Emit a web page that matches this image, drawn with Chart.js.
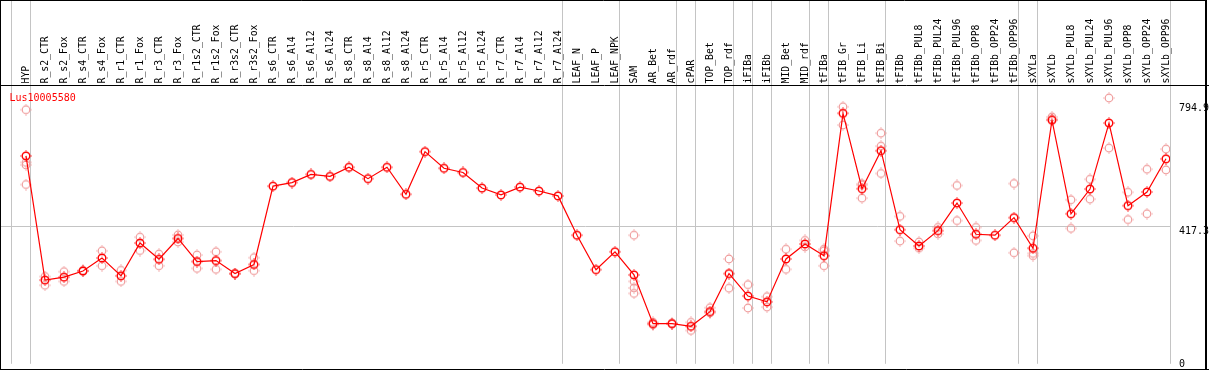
<!DOCTYPE html>
<html>
<head>
<meta charset="utf-8">
<script src="https://cdn.jsdelivr.net/npm/chart.js@4"></script>
<style>
  body { margin: 0; background: #fff; }
  canvas { display: block; }
</style>
</head>
<body>
<canvas id="geneChart" width="1209" height="370"></canvas>
<script>
// Datos del gráfico
const geneName = 'Lus10005580';

const categories = [
    'HYP', 'R_s2_CTR', 'R_s2_Fox', 'R_s4_CTR', 'R_s4_Fox', 'R_r1_CTR', 'R_r1_Fox', 'R_r3_CTR', 'R_r3_Fox',
    'R_r1s2_CTR', 'R_r1s2_Fox', 'R_r3s2_CTR', 'R_r3s2_Fox', 'R_s6_CTR', 'R_s6_Al4', 'R_s6_Al12', 'R_s6_Al24',
    'R_s8_CTR', 'R_s8_Al4', 'R_s8_Al12', 'R_s8_Al24', 'R_r5_CTR', 'R_r5_Al4', 'R_r5_Al12', 'R_r5_Al24',
    'R_r7_CTR', 'R_r7_Al4', 'R_r7_Al12', 'R_r7_Al24', 'LEAF_N', 'LEAF_P', 'LEAF_NPK', 'SAM', 'AR_Bet', 'AR_rdf',
    'cPAR', 'TOP_Bet', 'TOP_rdf', 'iFIBa', 'iFIBb', 'MID_Bet', 'MID_rdf', 'tFIBa', 'tFIB_Gr', 'tFIB_Li', 'tFIB_Bi',
    'tFIBb', 'tFIBb_PUL8', 'tFIBb_PUL24', 'tFIBb_PUL96', 'tFIBb_OPP8', 'tFIBb_OPP24', 'tFIBb_OPP96',
    'sXYLa', 'sXYLb', 'sXYLb_PUL8', 'sXYLb_PUL24', 'sXYLb_PUL96', 'sXYLb_OPP8', 'sXYLb_OPP24', 'sXYLb_OPP96'
];

// Media por muestra
const meanValues = [
    632, 250, 259, 278, 318, 263, 364, 314, 378,
    307, 310, 270, 298, 539, 550, 575, 569,
    597, 562, 597, 514, 645, 594, 581, 533,
    512, 536, 524, 509, 388, 282, 337, 266, 116, 116,
    108, 153, 270, 201, 183, 315, 361, 325, 763, 531, 648,
    405, 355, 402, 487, 391, 388, 442,
    348, 742, 454, 530, 733, 479, 521, 623
];

// Réplicas (null = sin réplica visible)
const rep1 = [
    774, 261, 276, 280, 340, 280, 382, 330, 389,
    327, 337, 270, 319, null, null, null, null,
    null, null, null, null, null, null, null, null,
    null, null, null, null, null, null, null, 388, 120, 117,
    120, 165, 315, 236, 199, 345, 372, 345, 783, 546, 702,
    446, 367, 412, 541, 412, null, 547,
    386, 752, 497, 560, 810, 520, 591, 653
];
const rep2 = [
    612, 234, 246, 277, 294, 246, 341, 294, 367,
    286, 283, 269, 279, null, null, null, null,
    null, null, null, null, null, null, null, null,
    null, null, null, null, null, null, null, 246, 113, 116,
    95, 149, 225, 164, 167, 283, 352, 340, 727, 542, 662,
    370, 348, 392, 433, 372, null, 334,
    332, 746, 409, 499, 656, 436, 454, 589
];
const rep3 = [
    604, null, null, null, null, null, null, null, null,
    null, null, null, null, null, null, null, null,
    null, null, null, null, null, null, null, null,
    null, null, null, null, null, null, null, 226, null, null,
    null, null, null, null, null, null, null, 294, null, 502, 578,
    null, null, null, null, null, null, null,
    325, null, null, null, null, null, null, null
];
const rep4 = [
    544, null, null, null, null, null, null, null, null,
    null, null, null, null, null, null, null, null,
    null, null, null, null, null, null, null, null,
    null, null, null, null, null, null, null, 209, null, null,
    null, null, null, null, null, null, null, null, null, null, null,
    null, null, null, null, null, null, null,
    null, null, null, null, null, null, null, null
];

// Marcas del eje derecho y separadores de grupos
const yTickValues = [0, 417.3, 794.9];
const gridValue = 417.3;
const groupBreaks = [0, 1, 29, 32, 35, 36, 38, 39, 40, 42, 43, 46, 53, 54, 61];

const X_SHIFT = 15 / 19; // el punto no va centrado en su columna
const LABEL_FONT = '9.8px "DejaVu Sans Mono"';

function toPoints(values) {
    return values.map((v, i) => ({ x: i, y: v }));
}

// Marcador: círculo con cuatro puntitos alrededor
function makeMarker(color, lw) {
    const c = document.createElement('canvas');
    c.width = 12;
    c.height = 12;
    const g = c.getContext('2d');
    g.strokeStyle = color;
    g.fillStyle = color;
    g.lineWidth = lw;
    g.beginPath();
    g.arc(6, 6, 3.8, 0, Math.PI * 2);
    g.stroke();
    g.fillRect(5.5, 0.3, 1, 1);
    g.fillRect(5.5, 10.7, 1, 1);
    g.fillRect(0.3, 5.5, 1, 1);
    g.fillRect(10.7, 5.5, 1, 1);
    return c;
}

const meanMarker = makeMarker('#ff0000', 1.4);
const repMarker = makeMarker('#ef9999', 1.2);

// Fondo, separadores, etiquetas y marco
const framePlugin = {
    id: 'frame',
    beforeDatasetsDraw(chart) {
        const ctx = chart.ctx;
        const xs = chart.scales.x;
        const ys = chart.scales.y;
        ctx.save();
        ctx.strokeStyle = '#c4c4c4';
        ctx.lineWidth = 1;
        groupBreaks.forEach(k => {
            const px = Math.round(xs.getPixelForValue(k - X_SHIFT)) + 0.5;
            ctx.beginPath();
            ctx.moveTo(px, 0);
            ctx.lineTo(px, chart.chartArea.bottom);
            ctx.stroke();
        });
        const gy = Math.round(ys.getPixelForValue(gridValue)) + 0.5;
        ctx.beginPath();
        ctx.moveTo(1, gy);
        ctx.lineTo(chart.chartArea.right, gy);
        ctx.stroke();
        ctx.restore();
    },
    afterDraw(chart) {
        const ctx = chart.ctx;
        const xs = chart.scales.x;
        const ys = chart.scales.y;
        ctx.save();

        // Etiquetas de categorías en vertical
        ctx.fillStyle = '#000';
        ctx.font = LABEL_FONT;
        ctx.textAlign = 'left';
        ctx.textBaseline = 'alphabetic';
        categories.forEach((label, i) => {
            const px = xs.getPixelForValue(i);
            ctx.save();
            ctx.translate(px + 2.8, 83.5);
            ctx.rotate(-Math.PI / 2);
            ctx.fillText(label, 0, 0);
            ctx.restore();
        });

        // Eje derecho
        ctx.font = '10px "DejaVu Sans Mono"';
        yTickValues.forEach(v => {
            const py = ys.getPixelForValue(v);
            ctx.fillText(String(v), chart.chartArea.right + 9, Math.min(py + 8, 367));
        });

        // Título
        ctx.fillStyle = '#ff0000';
        ctx.fillText(geneName, 9.5, 101);

        // Marco negro
        ctx.strokeStyle = '#000';
        ctx.lineWidth = 1;
        ctx.beginPath();
        ctx.moveTo(0.5, 0.5);
        ctx.lineTo(1206, 0.5);
        ctx.moveTo(0.5, 0);
        ctx.lineTo(0.5, 370);
        ctx.moveTo(0, 85.5);
        ctx.lineTo(1209, 85.5);
        ctx.moveTo(0, 369.5);
        ctx.lineTo(1209, 369.5);
        ctx.stroke();
        ctx.lineWidth = 2;
        ctx.beginPath();
        ctx.moveTo(1206, 0);
        ctx.lineTo(1206, 370);
        ctx.stroke();
        ctx.restore();
    }
};

function repDataset(values) {
    return {
        data: toPoints(values),
        showLine: false,
        pointStyle: repMarker,
        pointRadius: 5,
        order: 2
    };
}

document.addEventListener('DOMContentLoaded', function() {
    const ctx = document.getElementById('geneChart').getContext('2d');
    new Chart(ctx, {
        type: 'line',
        data: {
            datasets: [
                {
                    data: toPoints(meanValues),
                    borderColor: '#ff0000',
                    borderWidth: 1.2,
                    pointStyle: meanMarker,
                    pointRadius: 5,
                    tension: 0,
                    order: 1
                },
                repDataset(rep1),
                repDataset(rep2),
                repDataset(rep3),
                repDataset(rep4)
            ]
        },
        options: {
            responsive: false,
            animation: false,
            layout: {
                padding: { left: 11, right: 39, top: 86, bottom: 1 }
            },
            plugins: {
                legend: { display: false },
                tooltip: { enabled: false }
            },
            scales: {
                x: {
                    type: 'linear',
                    display: false,
                    min: -X_SHIFT,
                    max: categories.length - X_SHIFT
                },
                y: {
                    display: false,
                    min: -7.5,
                    max: 847
                }
            }
        },
        plugins: [framePlugin]
    });
});
</script>
</body>
</html>
